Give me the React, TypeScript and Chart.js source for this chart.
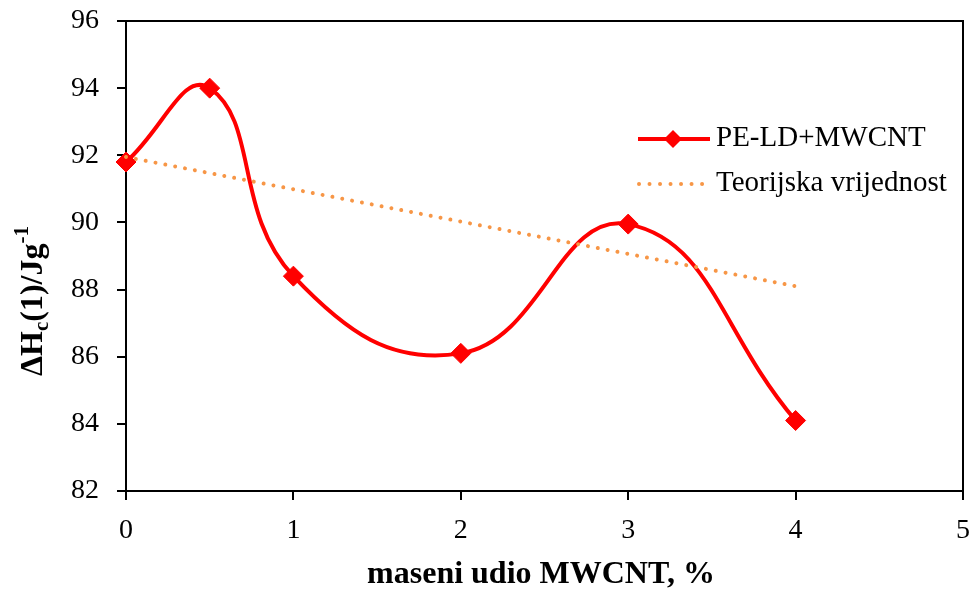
import React, { useEffect, useRef } from "react";
import { Chart, registerables } from "chart.js";

Chart.register(...registerables);

const measuredX = [0, 0.5, 1, 2, 3, 4];
const measuredY = [91.8, 94.0, 88.4, 86.1, 89.95, 84.1];
const theoryX = [0, 4];
const theoryY = [91.95, 88.1];
const seriesNames = ["PE-LD+MWCNT", "Teorijska vrijednost"];
const xTitle = "maseni udio MWCNT, %";

const RED = "#FF0000";
const ORANGE = "#F79646";
const SERIF = "'Liberation Serif', 'Times New Roman', serif";

const decorPlugin = {
  id: "decor",
  beforeDatasetsDraw(chart: any) {
    const { ctx, chartArea } = chart;
    ctx.save();
    ctx.strokeStyle = "#000";
    ctx.lineWidth = 2;
    ctx.beginPath();
    ctx.moveTo(chartArea.left, chartArea.top);
    ctx.lineTo(chartArea.right, chartArea.top);
    ctx.lineTo(chartArea.right, chartArea.bottom);
    ctx.stroke();
    ctx.restore();
  },
  afterDraw(chart: any) {
    const { ctx } = chart;
    ctx.save();
    // X title
    ctx.fillStyle = "#000";
    ctx.font = `bold 32px ${SERIF}`;
    ctx.textAlign = "center";
    ctx.textBaseline = "alphabetic";
    ctx.fillText(xTitle, 541, 583);

    // Y title with subscript/superscript
    ctx.save();
    ctx.translate(42, 301);
    ctx.rotate(-Math.PI / 2);
    ctx.textAlign = "left";
    const parts: [string, number, number][] = [
      ["ΔH", 32, 0],
      ["c", 21, 6],
      ["(1)/Jg", 32, 0],
      ["-1", 21, -14],
    ];
    let total = 0;
    for (const [t, s] of parts) {
      ctx.font = `bold ${s}px ${SERIF}`;
      total += ctx.measureText(t).width;
    }
    let x = -total / 2;
    for (const [t, s, dy] of parts) {
      ctx.font = `bold ${s}px ${SERIF}`;
      ctx.fillText(t, x, dy);
      x += ctx.measureText(t).width;
    }
    ctx.restore();

    // Legend
    ctx.font = `29px ${SERIF}`;
    ctx.textAlign = "left";
    ctx.textBaseline = "alphabetic";
    ctx.strokeStyle = RED;
    ctx.lineWidth = 4;
    ctx.beginPath();
    ctx.moveTo(638, 139);
    ctx.lineTo(710, 139);
    ctx.stroke();
    ctx.fillStyle = RED;
    ctx.beginPath();
    const r = 9;
    ctx.moveTo(673 - r, 139);
    ctx.lineTo(673, 139 - r);
    ctx.lineTo(673 + r, 139);
    ctx.lineTo(673, 139 + r);
    ctx.closePath();
    ctx.fill();
    ctx.fillStyle = "#000";
    ctx.fillText(seriesNames[0], 716, 146);
    ctx.strokeStyle = ORANGE;
    ctx.lineWidth = 4;
    ctx.lineCap = "round";
    ctx.setLineDash([0.01, 10.5]);
    ctx.beginPath();
    ctx.moveTo(639, 184);
    ctx.lineTo(703, 184);
    ctx.stroke();
    ctx.setLineDash([]);
    ctx.fillStyle = "#000";
    ctx.fillText(seriesNames[1], 716, 191);
    ctx.restore();
  },
};

export default function App() {
  const ref = useRef<HTMLCanvasElement | null>(null);
  useEffect(() => {
    if (!ref.current) return;
    const chart = new Chart(ref.current, {
      type: "scatter",
      data: {
        datasets: [
          {
            label: seriesNames[1],
            data: theoryX.map((x, i) => ({ x, y: theoryY[i] })),
            showLine: true,
            borderColor: ORANGE,
            borderWidth: 4,
            borderDash: [0.01, 10],
            borderCapStyle: "round",
            pointRadius: 0,
            tension: 0,
            clip: false,
          } as any,
          {
            label: seriesNames[0],
            data: measuredX.map((x, i) => ({ x, y: measuredY[i] })),
            showLine: true,
            borderColor: RED,
            backgroundColor: RED,
            borderWidth: 4,
            pointStyle: "rectRot",
            pointRadius: 10,
            pointBorderWidth: 1,
            pointBorderColor: RED,
            pointBackgroundColor: RED,
            tension: 0.45,
            clip: false,
          } as any,
        ],
      },
      options: {
        animation: false,
        responsive: false,
        layout: { padding: { top: 21, right: 9, left: 0, bottom: 0 } },
        plugins: { legend: { display: false }, tooltip: { enabled: false } },
        scales: {
          x: {
            type: "linear",
            min: 0,
            max: 5,
            afterFit: (s: any) => {
              s.height = 103;
              s.paddingLeft = 0;
              s.paddingRight = 0;
            },
            ticks: {
              stepSize: 1,
              color: "#000",
              padding: 14,
              font: { family: SERIF, size: 28 },
            },
            grid: {
              drawOnChartArea: false,
              drawTicks: true,
              tickLength: 9,
              color: "#000",
              lineWidth: 2,
            },
            border: { display: true, color: "#000", width: 2 },
          },
          y: {
            type: "linear",
            min: 82,
            max: 96,
            afterFit: (s: any) => {
              s.width = 126;
              s.paddingTop = 0;
              s.paddingBottom = 0;
            },
            ticks: {
              stepSize: 2,
              color: "#000",
              padding: 18,
              font: { family: SERIF, size: 28 },
            },
            grid: {
              drawOnChartArea: false,
              drawTicks: true,
              tickLength: 9,
              color: "#000",
              lineWidth: 2,
            },
            border: { display: true, color: "#000", width: 2 },
          },
        },
      },
      plugins: [decorPlugin],
    });
    return () => chart.destroy();
  }, []);
  return (
    <div style={{ position: "absolute", left: 0, top: 0, width: 974, height: 594, background: "#fff" }}>
      <canvas ref={ref} width={974} height={594} style={{ width: 974, height: 594 }} />
    </div>
  );
}
